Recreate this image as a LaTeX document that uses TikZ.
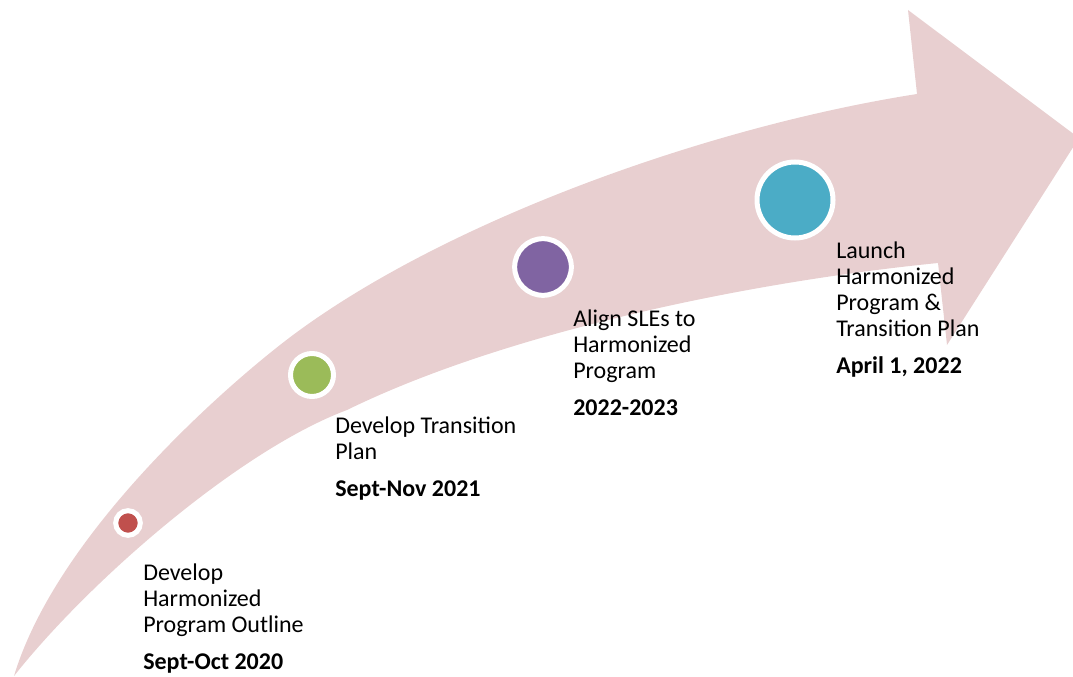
\documentclass[tikz,border=0pt]{standalone}
\usepackage{fontspec}
\setmainfont{Carlito}
\usetikzlibrary{positioning}

\definecolor{arrowpink}{HTML}{E8CFD0}
\definecolor{dotred}{HTML}{C0504D}
\definecolor{dotgreen}{HTML}{9BBB59}
\definecolor{dotpurple}{HTML}{8064A2}
\definecolor{dotteal}{HTML}{4BACC6}

\begin{document}
\begin{tikzpicture}[x=0.75pt, y=-0.75pt,
  milestone/.style={circle, draw=white, line width=3.75pt, inner sep=0pt},
  steplabel/.style={anchor=north west, align=left, inner sep=0pt, font=\fontsize{18}{19.5}\selectfont}]
\useasboundingbox (0,0) rectangle (1073,677);
\clip (0,0) rectangle (1073,677);

% Curved arrow
\fill[arrowpink] (14,676) .. controls (55,540) and (210,400) .. (280,345)
  .. controls (430,227) and (700,128) .. (917,94)
  -- (908,10) -- (1079,138) -- (947,345) -- (938,263)
  .. controls (738,283) and (500,335) .. (347,410)
  .. controls (240,450) and (90,580) .. (14,676) -- cycle;

% Milestones
\node[milestone, fill=dotred, minimum size=18.5pt] (outline) at (128,523) {};
\node[milestone, fill=dotgreen, minimum size=32.25pt] (transition) at (312,375) {};
\node[milestone, fill=dotpurple, minimum size=42.5pt] (align) at (543,267) {};
\node[milestone, fill=dotteal, minimum size=57pt] (launch) at (795,200) {};

% Labels
\node[steplabel] (outline text) at (143,564) {Develop\\Harmonized\\Program Outline\\[8pt]\textbf{Sept-Oct 2020}};
\node[steplabel] (transition text) at (335,417) {Develop Transition\\Plan\\[8pt]\textbf{Sept-Nov 2021}};
\node[steplabel] (align text) at (573,310) {Align SLEs to\\Harmonized\\Program\\[8pt]\textbf{2022-2023}};
\node[steplabel] (launch text) at (836,242) {Launch\\Harmonized\\Program \&\\Transition Plan\\[8pt]\textbf{April 1, 2022}};
\end{tikzpicture}
\end{document}
